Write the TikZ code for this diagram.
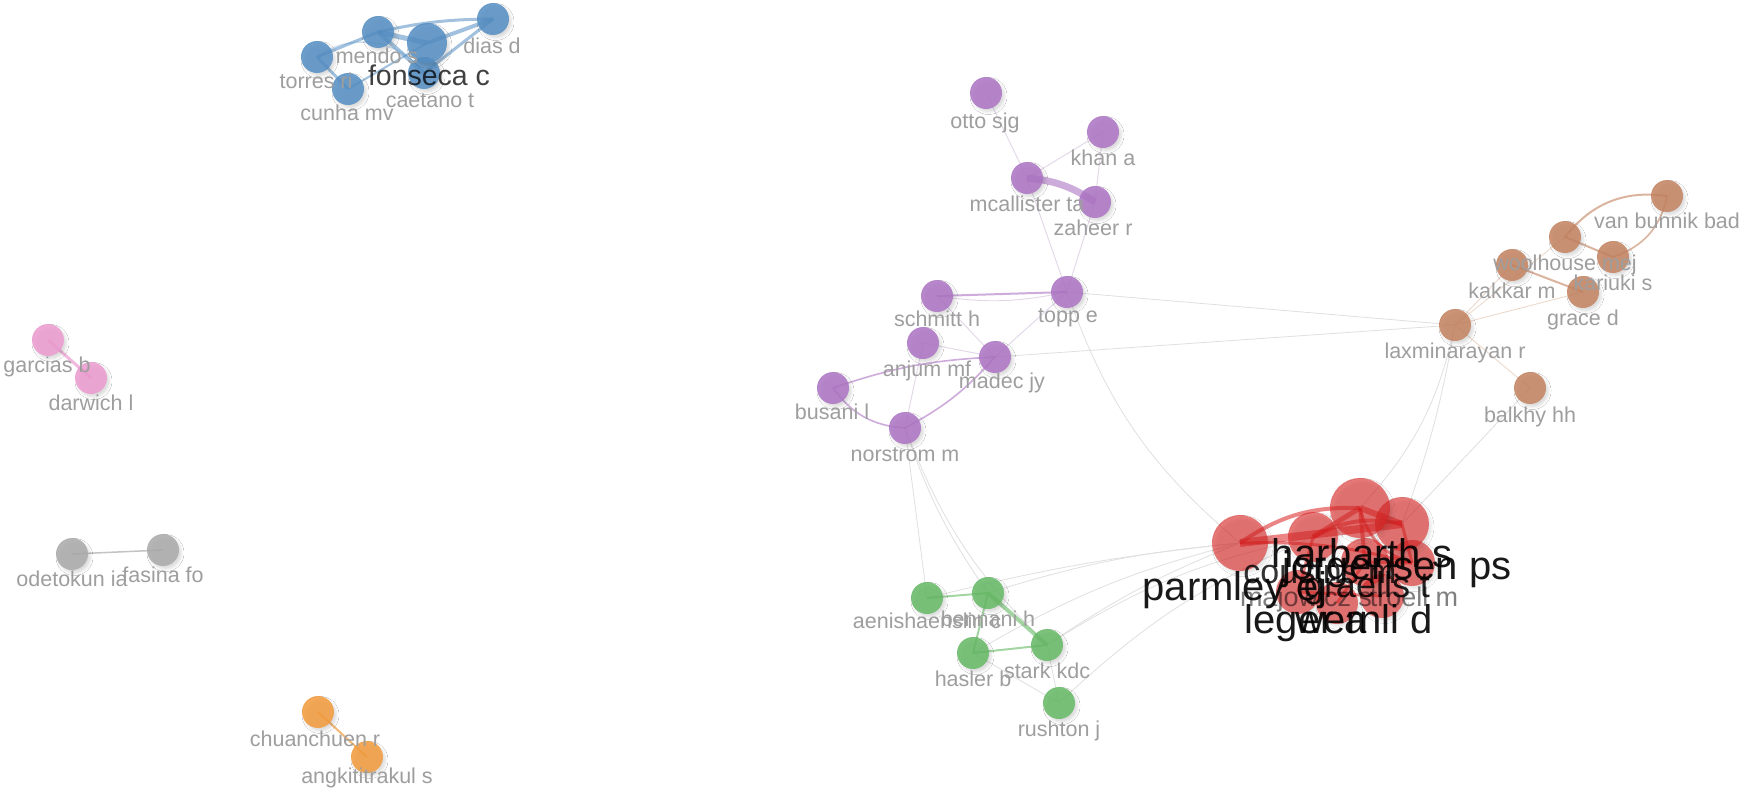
\documentclass[tikz,border=0pt]{standalone}
\usepackage{fontspec}
\setmainfont{Liberation Sans}
\usetikzlibrary{backgrounds,shadows.blur}

\definecolor{cblue}{RGB}{85,143,196}
\definecolor{cpurple}{RGB}{173,116,196}
\definecolor{cbrown}{RGB}{196,131,96}
\definecolor{cgreen}{RGB}{102,185,102}
\definecolor{cpink}{RGB}{237,155,208}
\definecolor{cgrey}{RGB}{170,170,170}
\definecolor{corange}{RGB}{243,155,61}
\definecolor{cred}{RGB}{219,34,34}
\definecolor{labgrey}{RGB}{158,158,158}
\definecolor{faintc}{RGB}{224,224,224}
\definecolor{faintbr}{RGB}{236,214,200}
\definecolor{faintpu}{RGB}{226,214,232}

\begin{document}
\begin{tikzpicture}[x=1pt,y=-1pt,
  dot/.style={circle,inner sep=0pt,minimum size=#1,fill opacity=0.85,
    blur shadow={shadow xshift=2.5pt,shadow yshift=-3pt,shadow blur radius=2.5pt,shadow opacity=16}},
  bdot/.style={dot=#1,fill=cblue}, bdot/.default=32pt,
  pdot/.style={dot=32pt,fill=cpurple},
  brdot/.style={dot=32pt,fill=cbrown},
  gdot/.style={dot=32pt,fill=cgreen},
  pkdot/.style={dot=32pt,fill=cpink},
  gydot/.style={dot=32pt,fill=cgrey},
  odot/.style={dot=32pt,fill=corange},
  rdot/.style={dot=#1,fill=cred,fill opacity=0.6},
  lab/.style={anchor=base,inner sep=0pt,text=labgrey,font=\fontsize{21.5}{24}\selectfont},
  biglab/.style={anchor=base,inner sep=0pt,text=black,text opacity=0.9,font=\fontsize{40}{44}\selectfont},
  faint/.style={draw=faintc,line width=0.8pt},
  faintb/.style={draw=faintbr,line width=0.8pt},
  faintp/.style={draw=faintpu,line width=0.9pt},
  bedge/.style={draw=cblue,draw opacity=0.55},
  pedge/.style={draw=cpurple,draw opacity=0.6},
  bredge/.style={draw=cbrown,draw opacity=0.6},
  gedge/.style={draw=cgreen,draw opacity=0.6},
  redge/.style={draw=cred,draw opacity=0.55},
]
\useasboundingbox (0,0) rectangle (1753,795);

% ---- blue group
\node[bdot] (mendo) at (378,32) {};
\node[bdot] (dias) at (493,19) {};
\node[bdot] (torres) at (317,57) {};
\node[bdot] (cunha) at (348,89) {};
\node[bdot] (caet) at (424,73) {};
\node[bdot=40pt] (fons) at (427,43) {};

% ---- purple group
\node[pdot] (otto) at (986,93) {};
\node[pdot] (khan) at (1103,132) {};
\node[pdot] (mcal) at (1027,178) {};
\node[pdot] (zah) at (1095,202) {};
\node[pdot] (topp) at (1067,292) {};
\node[pdot] (schm) at (937,296) {};
\node[pdot] (anj) at (923,343) {};
\node[pdot] (madec) at (995,357) {};
\node[pdot] (bus) at (833,388) {};
\node[pdot] (nors) at (905,428) {};

% ---- brown group
\node[brdot] (vanb) at (1667,196) {};
\node[brdot] (wool) at (1565,237) {};
\node[brdot] (kari) at (1613,257) {};
\node[brdot] (kakk) at (1512,265) {};
\node[brdot] (grace) at (1583,292) {};
\node[brdot] (lax) at (1455,325) {};
\node[brdot] (balk) at (1530,388) {};

% ---- green group
\node[gdot] (aeni) at (927,598) {};
\node[gdot] (benn) at (988,593) {};
\node[gdot] (hasl) at (973,653) {};
\node[gdot] (stark) at (1047,645) {};
\node[gdot] (rush) at (1059,703) {};

% ---- small pairs
\node[pkdot] (garc) at (48,340) {};
\node[pkdot] (darw) at (91,378) {};
\node[gydot] (odet) at (72,554) {};
\node[gydot] (fasi) at (163,550) {};
\node[odot] (chuan) at (318,712) {};
\node[odot] (angk) at (367,757) {};

% ---- red group
\node[rdot=56pt] (parm) at (1240,543) {};
\node[rdot=50pt] (cous) at (1313,537) {};
\node[rdot=44pt] (majo) at (1298,592) {};
\node[rdot=42pt] (lege) at (1337,603) {};
\node[rdot=44pt] (troe) at (1382,596) {};
\node[rdot=48pt] (wern) at (1365,562) {};
\node[rdot=46pt] (grae) at (1412,563) {};
\node[rdot=54pt] (jorg) at (1402,524) {};
\node[rdot=60pt] (harb) at (1360,508) {};

\begin{pgfonlayer}{background}
  \fill[white] (0,0) rectangle (1753,795);
  % links between groups
  \draw[faint] (topp.center) to[bend right=15] (parm.center);
  \draw[faint] (topp.center) -- (lax.center);
  \draw[faint] (madec.center) -- (lax.center);
  \draw[faint] (lax.center) to[bend left=15] (harb.center);
  \draw[faint] (lax.center) to[bend left=5] (jorg.center);
  \draw[faint] (balk.center) -- (jorg.center);
  \draw[faint] (parm.center) to[bend right=4] (aeni.center);
  \draw[faint] (parm.center) to[bend right=6] (benn.center);
  \draw[faint] (parm.center) to[bend right=8] (hasl.center);
  \draw[faint] (parm.center) to[bend right=6] (stark.center);
  \draw[faint] (cous.center) to[bend right=10] (stark.center);
  \draw[faint] (cous.center) to[bend right=10] (rush.center);
  \draw[faint] (nors.center) -- (aeni.center);
  \draw[faint] (nors.center) to[bend right=8] (benn.center);
  \draw[faint] (nors.center) to[bend right=12] (stark.center);
  \draw[faint] (hasl.center) -- (rush.center);
  \draw[faint] (stark.center) -- (rush.center);
  % purple light links
  \draw[faintp] (otto.center) -- (mcal.center);
  \draw[faintp] (mcal.center) -- (khan.center);
  \draw[faintp] (khan.center) -- (zah.center);
  \draw[faintp] (mcal.center) -- (topp.center);
  \draw[faintp] (zah.center) -- (topp.center);
  \draw[faintp] (topp.center) -- (madec.center);
  \draw[faintp] (schm.center) -- (madec.center);
  \draw[faintp] (anj.center) -- (madec.center);
  \draw[faintp] (anj.center) -- (nors.center);
  \draw[faintp] (schm.center) to[bend right=10] (topp.center);
  % brown light links
  \draw[faintb] (lax.center) -- (kakk.center);
  \draw[faintb] (lax.center) -- (wool.center);
  \draw[faintb] (lax.center) -- (grace.center);
  \draw[faintb] (lax.center) -- (balk.center);

  % blue links
  \draw[bedge,line width=1.5pt,draw opacity=0.3] (torres.center) to[bend left=45] (caet.center);
  \draw[bedge,line width=5pt] (mendo.center) -- (fons.center);
  \draw[bedge,line width=4pt] (fons.center) -- (dias.center);
  \draw[bedge,line width=3pt] (mendo.center) to[bend left=6] (dias.center);
  \draw[bedge,line width=4pt] (mendo.center) -- (caet.center);
  \draw[bedge,line width=3pt] (caet.center) -- (dias.center);
  \draw[bedge,line width=3pt] (torres.center) -- (mendo.center);
  \draw[bedge,line width=3pt] (torres.center) -- (cunha.center);
  \draw[bedge,line width=2pt] (cunha.center) -- (fons.center);

  % purple links
  \draw[pedge,line width=7pt] (mcal.center) to[bend left=14] (zah.center);
  \draw[pedge,line width=2pt] (schm.center) -- (topp.center);
  \draw[pedge,line width=1.6pt] (bus.center) to[bend left=8] (madec.center);
  \draw[pedge,line width=1.6pt] (bus.center) to[bend right=25] (nors.center);
  \draw[pedge,line width=1.6pt] (nors.center) to[bend right=10] (madec.center);

  % brown links
  \draw[bredge,line width=2pt] (wool.center) to[bend left=30] (vanb.center);
  \draw[bredge,line width=1.6pt] (kari.center) to[bend right=30] (vanb.center);
  \draw[bredge,line width=2pt] (wool.center) -- (kari.center);
  \draw[bredge,line width=2pt] (kakk.center) -- (grace.center);

  % green links
  \draw[gedge,line width=2pt] (aeni.center) -- (benn.center);
  \draw[gedge,line width=2pt] (benn.center) -- (hasl.center);
  \draw[gedge,line width=4pt] (benn.center) -- (stark.center);
  \draw[gedge,line width=2pt] (hasl.center) -- (stark.center);

  % pairs
  \draw[draw=cpink,draw opacity=0.7,line width=3pt] (garc.center) -- (darw.center);
  \draw[draw=cgrey,draw opacity=0.7,line width=1.5pt] (odet.center) -- (fasi.center);
  \draw[draw=corange,draw opacity=0.7,line width=2pt] (chuan.center) -- (angk.center);

  % red links
  \draw[redge,line width=8pt] (parm.center) -- (jorg.center);
  \draw[redge,line width=4pt] (parm.center) to[bend left=18] (harb.center);
  \draw[redge,line width=3pt] (parm.center) to[bend left=8] (grae.center);
  \draw[redge,line width=6pt] (harb.center) -- (jorg.center);
  \draw[redge,line width=5pt] (cous.center) -- (harb.center);
  \draw[redge,line width=4pt] (cous.center) to[bend left=20] (jorg.center);
  \draw[redge,line width=4pt] (harb.center) -- (wern.center);
  \draw[redge,line width=3pt] (wern.center) -- (grae.center);
  \draw[redge,line width=3pt] (majo.center) -- (troe.center);
  \draw[redge,line width=3pt] (lege.center) -- (wern.center);
  \draw[redge,line width=3pt] (cous.center) -- (majo.center);
  \draw[redge,line width=3pt] (jorg.center) -- (grae.center);
  \draw[redge,line width=3pt] (harb.center) to[bend right=30] (grae.center);
\end{pgfonlayer}

% ---- labels
\node[lab] (l-mendo) at (377,63) {mendo s};
\node[lab] (l-dias) at (492,53) {dias d};
\node[lab] (l-torres) at (316,88) {torres ri};
\node[lab] (l-caet) at (430,107) {caetano t};
\node[lab] (l-cunha) at (347,120) {cunha mv};
\node[anchor=base,inner sep=0pt,text=black,text opacity=0.75,font=\fontsize{28.5}{32}\selectfont] (l-fons) at (429,85) {fonseca c};

\node[lab] (l-otto) at (985,128) {otto sjg};
\node[lab] (l-khan) at (1103,165) {khan a};
\node[lab] (l-mcal) at (1027,211) {mcallister ta};
\node[lab] (l-zah) at (1093,235) {zaheer r};
\node[lab] (l-topp) at (1068,322) {topp e};
\node[lab] (l-schm) at (937,326) {schmitt h};
\node[lab] (l-anj) at (927,376) {anjum mf};
\node[lab] (l-madec) at (1002,388) {madec jy};
\node[lab] (l-bus) at (832,419) {busani l};
\node[lab] (l-nors) at (905,461) {norstrom m};

\node[lab] (l-vanb) at (1667,228) {van bunnik bad};
\node[lab] (l-wool) at (1565,270) {woolhouse mej};
\node[lab] (l-kari) at (1613,290) {kariuki s};
\node[lab] (l-kakk) at (1512,298) {kakkar m};
\node[lab] (l-grace) at (1583,325) {grace d};
\node[lab] (l-lax) at (1455,358) {laxminarayan r};
\node[lab] (l-balk) at (1530,422) {balkhy hh};

\node[lab] (l-aeni) at (927,628) {aenishaenslin c};
\node[lab] (l-benn) at (988,626) {bennani h};
\node[lab] (l-hasl) at (973,686) {hasler b};
\node[lab] (l-stark) at (1047,678) {stark kdc};
\node[lab] (l-rush) at (1059,736) {rushton j};

\node[lab] (l-garc) at (47,372) {garcias b};
\node[lab] (l-darw) at (91,410) {darwich l};
\node[lab] (l-odet) at (72,586) {odetokun ia};
\node[lab] (l-fasi) at (163,582) {fasina fo};
\node[lab] (l-chuan) at (315,746) {chuanchuen r};
\node[lab] (l-angk) at (367,783) {angkititrakul s};

% red group labels
\node[anchor=base,inner sep=0pt,text=black,text opacity=0.5,font=\fontsize{27}{30}\selectfont] (l-majo) at (1306,606) {majowicz s};
\node[anchor=base,inner sep=0pt,text=black,text opacity=0.5,font=\fontsize{27}{30}\selectfont] (l-troe) at (1414,606) {troell m};
\node[anchor=base,inner sep=0pt,text=black,text opacity=0.8,font=\fontsize{34}{38}\selectfont] (l-cous) at (1320,583) {cousins m};
\node[anchor=base,inner sep=0pt,text=black,text opacity=0.85,font=\fontsize{36}{40}\selectfont] (l-grae) at (1367,597) {graells t};
\node[biglab] (l-harb) at (1362,567) {harbarth s};
\node[biglab] (l-jorg) at (1397,579) {jorgensen ps};
\node[biglab] (l-parm) at (1235,600) {parmley ej};
\node[biglab] (l-lege) at (1306,633) {leger a};
\node[biglab] (l-wern) at (1364,633) {wernli d};
\end{tikzpicture}
\end{document}
